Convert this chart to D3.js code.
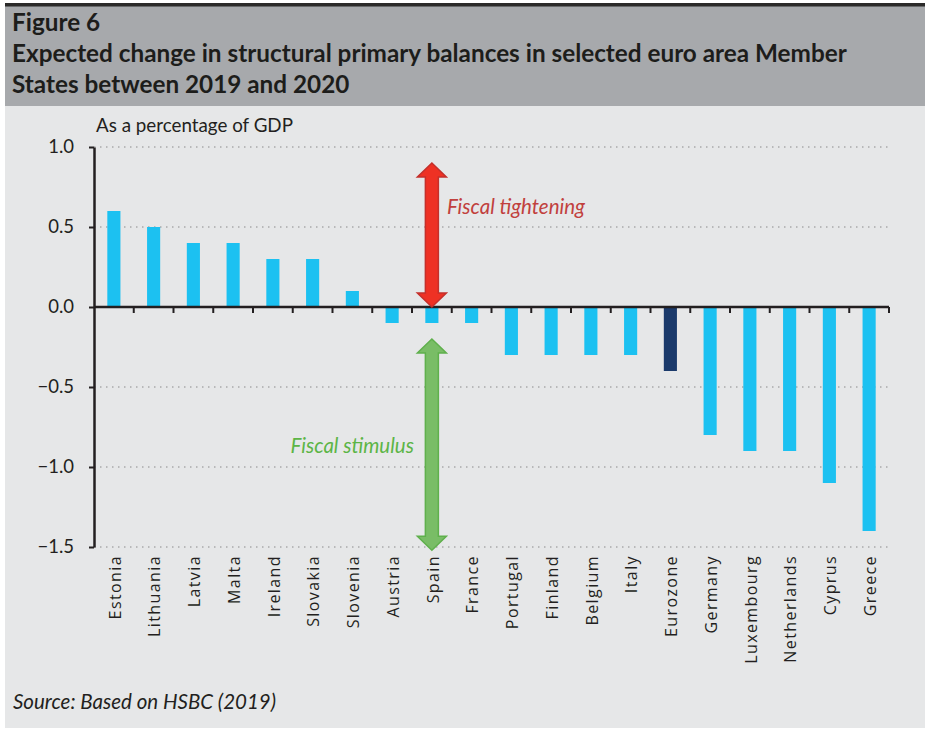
<!DOCTYPE html>
<html>
<head>
<meta charset="utf-8">
<script src="https://cdn.jsdelivr.net/npm/d3@7"></script>
<style>
    body { margin: 0; background: #fff; }
    svg { display: block; }
</style>
</head>
<body>
<div id="chart"></div>
<script>
// Data
const countries = ["Estonia", "Lithuania", "Latvia", "Malta", "Ireland", "Slovakia", "Slovenia", "Austria",
    "Spain", "France", "Portugal", "Finland", "Belgium", "Italy", "Eurozone", "Germany", "Luxembourg",
    "Netherlands", "Cyprus", "Greece"];
const balanceChange = [0.6, 0.5, 0.4, 0.4, 0.3, 0.3, 0.1, -0.1, -0.1, -0.1, -0.3, -0.3, -0.3, -0.3, -0.4,
    -0.8, -0.9, -0.9, -1.1, -1.4];
const yTicks = [1.0, 0.5, 0.0, -0.5, -1.0, -1.5];
const titleLines = ["Figure 6",
    "Expected change in structural primary balances in selected euro area Member",
    "States between 2019 and 2020"];

// Annotation arrows (value ranges, drawn at the Spain column)
const arrowCategory = "Spain";
const tighteningRange = [0.9, 0.0];
const stimulusRange = [-0.2, -1.52];

const width = 925, height = 730;
const margin = { top: 147, right: 35, bottom: 183, left: 94 };

const svg = d3.select("#chart").append("svg")
    .attr("width", width)
    .attr("height", height);

// Backgrounds
svg.append("rect").attr("x", 5).attr("y", 105).attr("width", width - 5).attr("height", 623).attr("fill", "#e6e7e8");
svg.append("rect").attr("x", 5).attr("y", 6).attr("width", width - 5).attr("height", 100).attr("fill", "#a7a9ac");
svg.append("rect").attr("x", 5).attr("y", 3).attr("width", width - 5).attr("height", 3.5).attr("fill", "#2b2a29");

// Title
svg.append("g")
    .selectAll("text")
    .data(titleLines)
    .join("text")
    .attr("x", 12)
    .attr("y", (d, i) => 31 + i * 31)
    .attr("font-family", "Lato, sans-serif")
    .attr("font-weight", "bold")
    .attr("font-size", 24.3)
    .attr("fill", "#1d1d1b")
    .text(d => d);

// Scales
const x = d3.scaleBand()
    .domain(countries)
    .range([margin.left, width - margin.right - 1])
    .paddingInner(0.67)
    .paddingOuter(0.335);

const y = d3.scaleLinear()
    .domain([-1.5, 1.0])
    .range([height - margin.bottom, margin.top]);

// Gridlines (dotted)
svg.append("g")
    .selectAll("line")
    .data(yTicks.filter(d => d !== 0))
    .join("line")
    .attr("x1", margin.left)
    .attr("x2", x.range()[1])
    .attr("y1", d => y(d))
    .attr("y2", d => y(d))
    .attr("stroke", "#8a8a8a")
    .attr("stroke-width", 1.2)
    .attr("stroke-dasharray", "1.5,4.5");

// Bars
svg.append("g")
    .selectAll("rect")
    .data(countries.map((c, i) => ({ country: c, value: balanceChange[i] })))
    .join("rect")
    .attr("x", d => x(d.country))
    .attr("width", x.bandwidth())
    .attr("y", d => y(Math.max(0, d.value)))
    .attr("height", d => Math.abs(y(d.value) - y(0)))
    .attr("fill", d => d.country === "Eurozone" ? "#1b3a6b" : "#1cc1f1");

// Zero line with category boundary ticks
const axisColor = "#231f20";
svg.append("line")
    .attr("x1", margin.left)
    .attr("x2", x.range()[1])
    .attr("y1", y(0))
    .attr("y2", y(0))
    .attr("stroke", axisColor)
    .attr("stroke-width", 2.5);

svg.append("g")
    .selectAll("line")
    .data(countries)
    .join("line")
    .attr("x1", d => x(d) + x.bandwidth() / 2 + x.step() / 2)
    .attr("x2", d => x(d) + x.bandwidth() / 2 + x.step() / 2)
    .attr("y1", y(0))
    .attr("y2", y(0) + 6)
    .attr("stroke", axisColor)
    .attr("stroke-width", 2);

// Y axis
const yAxis = svg.append("g")
    .attr("transform", `translate(${margin.left},0)`)
    .call(d3.axisLeft(y)
        .tickValues(yTicks)
        .tickSize(5)
        .tickSizeOuter(0)
        .tickPadding(15)
        .tickFormat(d3.format(".1f")));

yAxis.select(".domain").attr("stroke", axisColor).attr("stroke-width", 2.5);
yAxis.selectAll(".tick line").attr("stroke", axisColor).attr("stroke-width", 2);
yAxis.selectAll(".tick text")
    .attr("font-family", "Lato, sans-serif")
    .attr("font-size", 18.5)
    .attr("fill", "#231f20");

// Axis unit label
svg.append("text")
    .attr("x", 96)
    .attr("y", 132)
    .attr("font-family", "Lato, sans-serif")
    .attr("font-size", 18.8)
    .attr("fill", "#231f20")
    .text("As a percentage of GDP");

// Category labels
svg.append("g")
    .selectAll("text")
    .data(countries)
    .join("text")
    .attr("transform", d => `translate(${x(d) + x.bandwidth() / 2 + 1},${height - margin.bottom + 8}) rotate(-90)`)
    .attr("dy", "0.36em")
    .attr("text-anchor", "end")
    .attr("font-family", "'Open Sans', sans-serif")
    .attr("font-size", 16)
    .attr("letter-spacing", 1.4)
    .attr("fill", "#231f20")
    .text(d => d);

// Double-headed arrows
function arrowPath(cx, yTop, yBottom) {
    const shaft = 6.5, head = 14.5, headLen = 14;
    return d3.line()([
        [cx, yTop],
        [cx + head, yTop + headLen],
        [cx + shaft, yTop + headLen],
        [cx + shaft, yBottom - headLen],
        [cx + head, yBottom - headLen],
        [cx, yBottom],
        [cx - head, yBottom - headLen],
        [cx - shaft, yBottom - headLen],
        [cx - shaft, yTop + headLen],
        [cx - head, yTop + headLen]
    ]) + "Z";
}

const arrowX = x(arrowCategory) + x.bandwidth() / 2;

svg.append("path")
    .attr("d", arrowPath(arrowX, y(tighteningRange[0]), y(tighteningRange[1])))
    .attr("fill", "#ee3124")
    .attr("stroke", "#c4302b")
    .attr("stroke-width", 1.5)
    .attr("stroke-linejoin", "miter");

svg.append("path")
    .attr("d", arrowPath(arrowX, y(stimulusRange[0]), y(stimulusRange[1])))
    .attr("fill", "#79bd66")
    .attr("stroke", "#5fb04c")
    .attr("stroke-width", 1.5)
    .attr("stroke-linejoin", "miter");

svg.append("text")
    .attr("x", arrowX + 15)
    .attr("y", 214)
    .attr("font-family", "Lato, sans-serif")
    .attr("font-style", "italic")
    .attr("font-size", 20.5)
    .attr("fill", "#c1403d")
    .text("Fiscal tightening");

svg.append("text")
    .attr("x", arrowX - 18)
    .attr("y", 453)
    .attr("text-anchor", "end")
    .attr("font-family", "Lato, sans-serif")
    .attr("font-style", "italic")
    .attr("font-size", 20.5)
    .attr("fill", "#5cb546")
    .text("Fiscal stimulus");

// Source note
svg.append("text")
    .attr("x", 13)
    .attr("y", 709)
    .attr("font-family", "Lato, sans-serif")
    .attr("font-style", "italic")
    .attr("font-size", 20.5)
    .attr("fill", "#231f20")
    .text("Source: Based on HSBC (2019)");
</script>
</body>
</html>
